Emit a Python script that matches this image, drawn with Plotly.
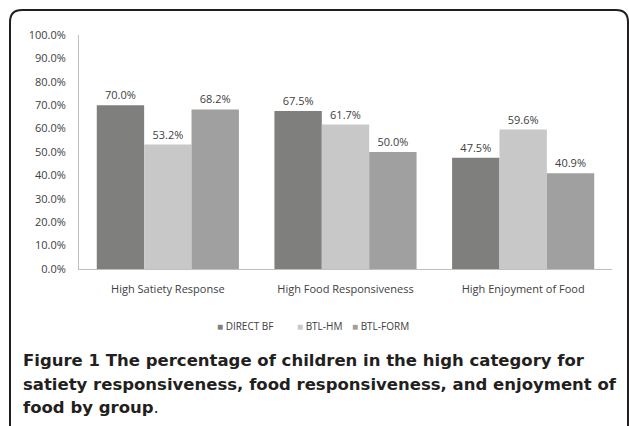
import plotly.graph_objects as go

categories = ["High Satiety Response", "High Food Responsiveness", "High Enjoyment of Food"]
series_names = ["DIRECT BF", "BTL-HM", "BTL-FORM"]
direct_bf = [0.700, 0.675, 0.475]
btl_hm = [0.532, 0.617, 0.596]
btl_form = [0.682, 0.500, 0.409]
colors = ["#7f807e", "#c8c8c8", "#a0a0a0"]
caption_lines = [
    "<b>Figure 1 The percentage of children in the high category for</b>",
    "<b>satiety responsiveness, food responsiveness, and enjoyment of</b>",
    "<b>food by group</b>.",
]

W, H = 629, 426
L, R, T, B = 79, 17, 35, 157
PW, PH = W - L - R, H - T - B

def px_x(x):
    return (x - L) / PW

def px_y(y):
    return (H - B - y) / PH

fig = go.Figure()
for name, vals, col in zip(series_names, [direct_bf, btl_hm, btl_form], colors):
    fig.add_trace(go.Bar(
        x=categories, y=vals, name=name, marker=dict(color=col, line=dict(width=0)),
        text=[f"{v*100:.1f}%" for v in vals], textposition="outside",
        textfont=dict(size=11, color="#404040", family="Open Sans"),
        cliponaxis=False,
    ))

fig.update_layout(
    width=W, height=H, autosize=False,
    margin=dict(l=L, r=R, t=T, b=B, autoexpand=False),
    paper_bgcolor="white", plot_bgcolor="white",
    barmode="group", bargap=0.2, bargroupgap=0,
    font=dict(family="Open Sans", size=11, color="#404040"),
    showlegend=False,
    xaxis=dict(showline=True, linecolor="#bfbfbf", linewidth=1, ticks="",
               tickfont=dict(size=11, color="#404040"), ticklabelstandoff=10),
    yaxis=dict(range=[0, 1], dtick=0.1, tickformat=".1%", showgrid=False,
               showline=True, linecolor="#bfbfbf", linewidth=1, zeroline=False,
               tickfont=dict(size=11, color="#404040"), ticklabelstandoff=10),
)

# legend (drawn as text)
for name, col, lx in zip(series_names, colors, [215, 295, 350]):
    fig.add_annotation(text=f'<span style="color:{col}">■</span> {name}',
                       xref="paper", yref="paper", x=px_x(lx), y=px_y(326),
                       xanchor="left", yanchor="middle", showarrow=False,
                       font=dict(size=10, color="#404040", family="Open Sans"))

for txt, yy in zip(caption_lines, [360, 384, 407]):
    fig.add_annotation(text=txt, xref="paper", yref="paper", x=px_x(21), y=px_y(yy),
                       xanchor="left", yanchor="middle", showarrow=False,
                       font=dict(size=16.5, color="#231f20", family="DejaVu Sans"))

r = 12
x0, x1, y0, y1 = 10, 628, 10, 440
path = (f"M {px_x(x0)} {px_y(y1)} L {px_x(x0)} {px_y(y0 + r)} "
        f"Q {px_x(x0)} {px_y(y0)} {px_x(x0 + r)} {px_y(y0)} "
        f"L {px_x(x1 - r)} {px_y(y0)} Q {px_x(x1)} {px_y(y0)} {px_x(x1)} {px_y(y0 + r)} "
        f"L {px_x(x1)} {px_y(y1)}")
fig.add_shape(type="path", path=path, xref="paper", yref="paper",
              line=dict(color="#231f20", width=2))

fig.write_html("out.html", config={"displayModeBar": False},
               post_script="document.body.style.margin='0';")
